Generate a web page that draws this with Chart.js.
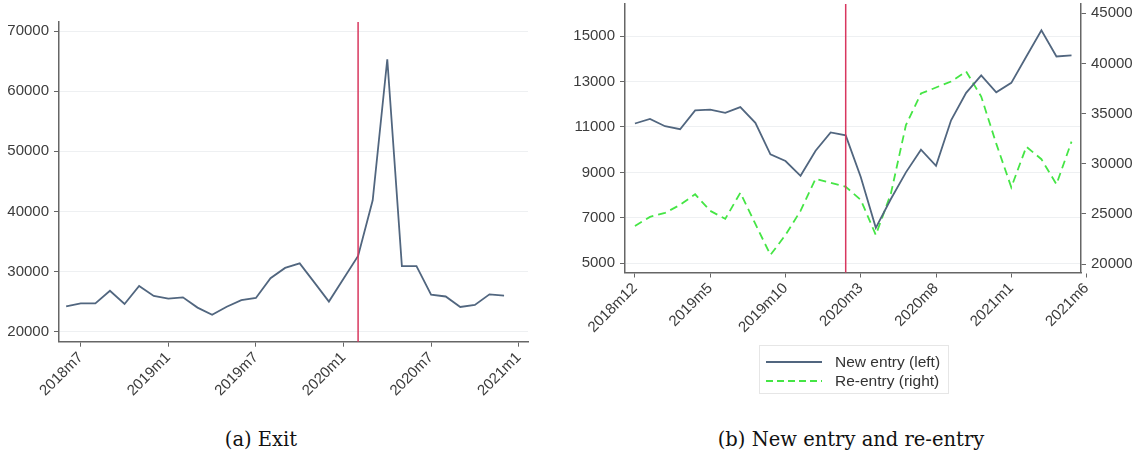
<!DOCTYPE html>
<html>
<head>
<meta charset="utf-8">
<script src="https://cdn.jsdelivr.net/npm/chart.js@4.4.1/dist/chart.umd.min.js"></script>
<style>
  body { margin: 0; width: 1143px; height: 459px; position: relative; overflow: hidden; background: #fff; }
  canvas { position: absolute; top: 0; }
  #legend { position: absolute; left: 759px; top: 345px; width: 188px; height: 47px; border: 1px solid #e6e6e6;
            font: 15.5px 'Liberation Sans', Arial, sans-serif; color: #333; }
  #legend .row { position: absolute; left: 0; height: 18px; }
  #legend svg { position: absolute; left: 6px; top: 4px; }
  #legend span { position: absolute; left: 75px; top: 0; white-space: nowrap; line-height: 18px; }
  .cap { position: absolute; top: 430px; width: 400px; text-align: center; white-space: nowrap;
         font: 19.5px 'DejaVu Serif', serif; line-height: 19px; color: #111; }
</style>
</head>
<body>
<canvas id="exitChart" width="545" height="400" style="left:0;width:545px;height:400px"></canvas>
<canvas id="entryChart" width="583" height="400" style="left:560px;width:583px;height:400px"></canvas>
<div id="legend"></div>
<div class="cap" style="left:61px">(a) Exit</div>
<div class="cap" style="left:651px">(b) New entry and re-entry</div>
<script>
  // Panel (a): exits, monthly
  const exitMonths = ['2018m6', '2018m7', '2018m8', '2018m9', '2018m10', '2018m11', '2018m12',
    '2019m1', '2019m2', '2019m3', '2019m4', '2019m5', '2019m6', '2019m7', '2019m8', '2019m9', '2019m10', '2019m11', '2019m12',
    '2020m1', '2020m2', '2020m3', '2020m4', '2020m5', '2020m6', '2020m7', '2020m8', '2020m9', '2020m10', '2020m11', '2020m12'];
  const exitValues = [24200, 24700, 24700, 26800, 24600, 27600, 25950,
    25500, 25700, 24000, 22800, 24150, 25250, 25600, 28900, 30600, 31350, 28200, 25000,
    28800, 32600, 41850, 65300, 30900, 30900, 26150, 25850, 24100, 24450, 26200, 26000];
  const exitXTicks = ['2018m7', '2019m1', '2019m7', '2020m1', '2020m7', '2021m1'];
  const exitYTicks = [20000, 30000, 40000, 50000, 60000, 70000];

  // Panel (b): new entry (left axis) and re-entry (right axis)
  const entryMonths = ['2018m12',
    '2019m1', '2019m2', '2019m3', '2019m4', '2019m5', '2019m6', '2019m7', '2019m8', '2019m9', '2019m10', '2019m11', '2019m12',
    '2020m1', '2020m2', '2020m3', '2020m4', '2020m5', '2020m6', '2020m7', '2020m8', '2020m9', '2020m10', '2020m11', '2020m12',
    '2021m1', '2021m2', '2021m3', '2021m4', '2021m5'];
  const newEntryValues = [11150,
    11350, 11030, 10900, 11730, 11760, 11620, 11870, 11180, 9790, 9500, 8850, 9950,
    10760, 10630, 8800, 6560, 7830, 9000, 10000, 9290, 11290, 12500, 13270, 12520,
    12940, 14100, 15250, 14100, 14150];
  const reEntryValues = [23800,
    24700, 25100, 25900, 26950, 25300, 24500, 27100, 24000, 20900, 22900, 25300, 28500,
    28100, 27700, 26400, 22900, 27000, 33850, 37000, 37600, 38200, 39200, 36700, 32000,
    27650, 31700, 30450, 27950, 32200];
  const seriesLabels = ['New entry (left)', 'Re-entry (right)'];
  const entryXTicks = ['2018m12', '2019m5', '2019m10', '2020m3', '2020m8', '2021m1', '2021m6'];
  const newEntryTicks = [5000, 7000, 9000, 11000, 13000, 15000];
  const reEntryTicks = [20000, 25000, 30000, 35000, 40000, 45000];

  const eventMonth = '2020m2';

  // month label <-> number (months since 2018m1)
  const monthIndex = m => { const [y, mo] = m.split('m').map(Number); return (y - 2018) * 12 + mo - 1; };
  const monthLabel = i => (2018 + Math.floor(i / 12)) + 'm' + (i % 12 + 1);
  const points = (months, vals) => months.map((m, i) => ({ x: monthIndex(m), y: vals[i] }));
  const setTicks = vals => axis => { axis.ticks = vals.map(v => ({ value: v })); };

  const axisColor = '#666';
  const gridColor = '#eef0f2';
  const textColor = '#3c3c3c';
  const tickFont = { family: "'Liberation Sans', Arial, sans-serif", size: 15 };
  const blue = '#51667f';
  const green = '#45e545';

  // red vertical line at the event month
  const eventLine = {
    id: 'eventLine',
    afterDatasetsDraw(chart) {
      const ctx = chart.ctx;
      const x = chart.scales.x.getPixelForValue(monthIndex(eventMonth));
      const { top, bottom } = chart.chartArea;
      ctx.save();
      ctx.strokeStyle = '#d8375f';
      ctx.lineWidth = 1.5;
      ctx.beginPath();
      ctx.moveTo(x, top);
      ctx.lineTo(x, bottom);
      ctx.stroke();
      ctx.restore();
    }
  };

  // axes keep fixed sizes, no extra room for overhanging labels
  const fixSize = (key, size) => s => {
    s[key] = size;
    s.paddingTop = 0; s.paddingBottom = 0; s.paddingLeft = 0; s.paddingRight = 0;
  };

  function xScale(min, max, tickLabels, height) {
    return {
      type: 'linear', min: min, max: max, bounds: 'data',
      afterBuildTicks: setTicks(tickLabels.map(monthIndex)),
      afterFit: fixSize('height', height),
      grid: { drawOnChartArea: false, tickLength: 5, tickColor: axisColor, lineWidth: 1 },
      border: { color: axisColor, width: 1.5 },
      ticks: { minRotation: 45, maxRotation: 45, autoSkip: false, padding: 2, font: tickFont, color: textColor,
               callback: v => monthLabel(v) }
    };
  }

  function yScale(min, max, tickVals, width, position, gridOn) {
    return {
      type: 'linear', position: position, min: min, max: max, bounds: 'data',
      afterBuildTicks: setTicks(tickVals),
      afterFit: fixSize('width', width),
      grid: { drawOnChartArea: gridOn, color: gridColor, lineWidth: 1, tickLength: 5, tickColor: axisColor },
      border: { color: axisColor, width: 1.5 },
      ticks: { padding: 5, font: tickFont, color: textColor, callback: v => String(v) }
    };
  }

  const common = {
    responsive: false,
    animation: false,
    plugins: { legend: { display: false }, tooltip: { enabled: false } }
  };

  const config1 = {
    type: 'line',
    data: {
      datasets: [{
        label: 'Exit',
        data: points(exitMonths, exitValues),
        borderColor: blue,
        borderWidth: 1.8,
        pointRadius: 0,
        tension: 0
      }]
    },
    options: Object.assign({}, common, {
      layout: { padding: { top: 22, right: 17, left: 0, bottom: 0 } },
      scales: {
        x: xScale(4.51, 36.64, exitXTicks, 58.3),
        y: yScale(18330, 71500, exitYTicks, 59, 'left', true)
      }
    }),
    plugins: [eventLine]
  };

  const config2 = {
    type: 'line',
    data: {
      datasets: [
        {
          label: seriesLabels[0],
          data: points(entryMonths, newEntryValues),
          yAxisID: 'y',
          borderColor: blue,
          borderWidth: 1.8,
          pointRadius: 0,
          tension: 0
        },
        {
          label: seriesLabels[1],
          data: points(entryMonths, reEntryValues),
          yAxisID: 'y1',
          borderColor: green,
          borderWidth: 1.8,
          borderDash: [8, 5],
          pointRadius: 0,
          tension: 0
        }
      ]
    },
    options: Object.assign({}, common, {
      layout: { padding: { top: 4, right: 0, left: 0, bottom: 0 } },
      scales: {
        x: xScale(10.34, 40.63, entryXTicks, 127.5),
        y: yScale(4595, 16408, newEntryTicks, 65, 'left', true),
        y1: yScale(19153, 45927, reEntryTicks, 62, 'right', false)
      }
    }),
    plugins: [eventLine]
  };

  const exitChart = new Chart(document.getElementById('exitChart').getContext('2d'), config1);
  const entryChart = new Chart(document.getElementById('entryChart').getContext('2d'), config2);

  // boxed legend under panel (b), built from the datasets
  const legend = document.getElementById('legend');
  entryChart.data.datasets.forEach((ds, i) => {
    const row = document.createElement('div');
    row.className = 'row';
    row.style.top = (7 + i * 19) + 'px';
    const dash = ds.borderDash ? 'stroke-dasharray="7 4"' : '';
    row.innerHTML = '<svg width="60" height="10"><line x1="0" y1="5" x2="56" y2="5" stroke="' + ds.borderColor +
      '" stroke-width="1.8" ' + dash + '/></svg><span>' + ds.label + '</span>';
    legend.appendChild(row);
  });
</script>
</body>
</html>
